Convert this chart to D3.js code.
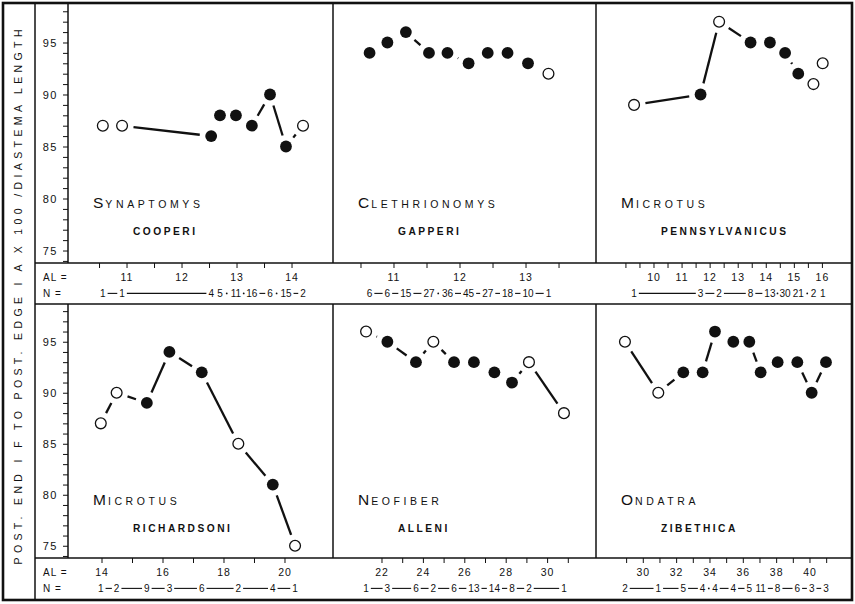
<!DOCTYPE html>
<html><head><meta charset="utf-8">
<script src="https://cdn.jsdelivr.net/npm/d3@7"></script>
<style>
body{margin:0;background:#fff;}
svg{display:block;}
text{font-family:"Liberation Sans",Arial,sans-serif;fill:#111;}
</style></head><body>
<svg id="chart" width="855" height="604"></svg>
<script>
// ---------- data ----------
const genus   = ["Synaptomys","Clethrionomys","Microtus","Microtus","Neofiber","Ondatra"];
const species = ["cooperi","gapperi","pennsylvanicus","richardsoni","alleni","zibethica"];

// alveolar length (AL) of each class
const alValues = [
  [10.56,10.91,12.53,12.69,12.98,13.27,13.6,13.89,14.2],
  [10.63,10.9,11.18,11.53,11.81,12.13,12.42,12.72,13.03,13.34],
  [9.29,11.66,12.32,13.44,14.13,14.67,15.14,15.68,16.01],
  [13.96,14.48,15.47,16.21,17.27,18.47,19.6,20.33],
  [21.23,22.26,23.64,24.48,25.48,26.44,27.43,28.28,29.1,30.79],
  [28.9,30.9,32.4,33.56,34.3,35.4,36.36,37.04,38.06,39.24,40.1,40.96]
];
// ratio (x100 / diastema length)
const ratioValues = [
  [87,87,86,88,88,87,90,85,87],
  [94,95,96,94,94,93,94,94,93,92],
  [89,90,97,95,95,94,92,91,93],
  [87,90,89,94,92,85,81,75],
  [96,95,93,95,93,93,92,91,93,88],
  [95,90,92,92,96,95,95,92,93,93,90,93]
];
// sample sizes N
const nValues = [
  [1,1,4,5,11,16,6,15,2],
  [6,6,15,27,36,45,27,18,10,1],
  [1,3,2,8,13,30,21,2,1],
  [1,2,9,3,6,2,4,1],
  [1,3,6,2,6,13,14,8,2,1],
  [2,1,5,4,4,4,5,11,8,6,3,3]
];
// AL tick labels and tick marks
const alTickLabels = [
  [11,12,13,14],[11,12,13],[10,11,12,13,14,15,16],
  [14,16,18,20],[22,24,26,28,30],[30,32,34,36,38,40]
];
const alTickMarks = [
  [10.5,11,11.5,12,12.5,13,13.5,14],
  [10.5,11,11.5,12,12.5,13,13.5],
  [9,9.5,10,10.5,11,11.5,12,12.5,13,13.5,14,14.5,15,15.5,16],
  [14,15,16,17,18,19,20],
  [22,23,24,25,26,27,28,29,30,31],
  [29,30,31,32,33,34,35,36,37,38,39,40,41]
];
const alDomains = [[9.927,14.745],[10.076,14.06],[7.934,17.054],[12.885,21.574],[19.633,32.338],[27.163,42.52]];
const ratioTicks = [75,80,85,90,95];
const ratioTickMarks = d3.range(74,99);
const ratioDomain = [73.8,98.7];
const yLabel = "POST. END I F TO POST. EDGE I A X 100 /DIASTEMA LENGTH";

// ---------- layout ----------
const svg = d3.select("#chart");
const colX = [68,333,596,852];
const rowY = [[4,263],[304,558]];
const ink = "#111";

svg.append("rect").attr("width",855).attr("height",604).attr("fill","#fff");

const smallCaps = (sel, word, big, small, ls) => {
  sel.append("tspan").attr("font-size",big).attr("letter-spacing",2).text(word[0].toUpperCase());
  sel.append("tspan").attr("font-size",small).attr("letter-spacing",ls).text(word.slice(1).toUpperCase());
};

for (let i = 0; i < 6; i++) {
  const col = i % 3, row = Math.floor(i / 3);
  const x0 = colX[col], x1 = colX[col+1];
  const [yTop, yBot] = rowY[row];
  const x = d3.scaleLinear().domain(alDomains[i]).range([x0, x1]);
  const y = d3.scaleLinear().domain(ratioDomain).range([yBot, yTop]);
  const g = svg.append("g");

  // y axis on left column
  if (col === 0) {
    const ax = g.append("g").attr("transform",`translate(${x0},0)`)
      .call(d3.axisLeft(y).tickValues(ratioTickMarks.filter(v => y(v) > yTop+3 && y(v) < yBot-1))
        .tickSize(5).tickSizeOuter(0).tickPadding(5)
        .tickFormat(d => ratioTicks.includes(d) ? d : ""));
    ax.select(".domain").remove();
    ax.selectAll("line").attr("stroke",ink).attr("stroke-width",1);
    ax.selectAll("text").attr("font-size",11).attr("letter-spacing",1.5)
      .attr("font-family","'Liberation Sans',Arial,sans-serif").attr("fill",ink);
  }

  // connecting segments (with gaps around the markers)
  const pts = alValues[i].map((a, k) => ({px: x(a), py: y(ratioValues[i][k]), n: nValues[i][k]}));
  const gap = 11.5;
  for (let k = 0; k < pts.length - 1; k++) {
    const p = pts[k], q = pts[k+1];
    const dx = q.px - p.px, dy = q.py - p.py, d = Math.hypot(dx, dy);
    if (d <= 2*gap + 0.5) continue;
    const ux = dx/d, uy = dy/d;
    g.append("line")
      .attr("x1", p.px + ux*gap).attr("y1", p.py + uy*gap)
      .attr("x2", q.px - ux*gap).attr("y2", q.py - uy*gap)
      .attr("stroke", ink).attr("stroke-width", 2.3).attr("stroke-linecap","butt");
  }
  // markers: open when N <= 2
  g.selectAll("circle.pt").data(pts).join("circle")
    .attr("class","pt")
    .attr("cx", d => d.px).attr("cy", d => d.py)
    .attr("r", d => d.n <= 2 ? 5.4 : 5.9)
    .attr("fill", d => d.n <= 2 ? "#fff" : ink)
    .attr("stroke", ink).attr("stroke-width", d => d.n <= 2 ? 1.3 : 0);

  // titles
  const tY = row === 0 ? 208 : 505;
  const gt = g.append("text").attr("x", x0 + 25).attr("y", tY);
  smallCaps(gt, genus[i], 15.5, 10.5, 3.6);
  g.append("text").attr("x", x0 + 65).attr("y", tY + 27)
    .attr("font-size", 10.2).attr("font-weight","bold").attr("letter-spacing", 2.5)
    .text(species[i].toUpperCase());

  // AL strip
  const sTop = yBot;
  g.selectAll("line.tk").data(alTickMarks[i]).join("line")
    .attr("class","tk")
    .attr("x1", d => x(d)).attr("x2", d => x(d))
    .attr("y1", sTop).attr("y2", sTop + 5)
    .attr("stroke", ink).attr("stroke-width", 1);
  g.selectAll("text.al").data(alTickLabels[i]).join("text")
    .attr("class","al")
    .attr("x", d => x(d)).attr("y", sTop + 18)
    .attr("text-anchor","middle").attr("font-size",10.5).attr("letter-spacing",1)
    .text(d => d);

  // N row
  const nY = sTop + 34;
  const nt = g.selectAll("text.n").data(pts).join("text")
    .attr("class","n")
    .attr("x", d => d.px).attr("y", nY)
    .attr("text-anchor","middle").attr("font-size",10)
    .text(d => d.n);
  const w = [];
  nt.each(function(){ w.push(this.getComputedTextLength()); });
  for (let k = 0; k < pts.length - 1; k++) {
    const a = pts[k].px + w[k]/2, b = pts[k+1].px - w[k+1]/2;
    const gp = b - a;
    if (gp < 4) continue;
    if (gp < 8) {
      g.append("circle").attr("cx",(a+b)/2).attr("cy",nY-3.6).attr("r",0.9).attr("fill",ink);
    } else {
      g.append("line").attr("x1",a+2).attr("x2",b-2).attr("y1",nY-3.6).attr("y2",nY-3.6)
        .attr("stroke",ink).attr("stroke-width",1.1);
    }
  }

  if (col === 0) {
    g.append("text").attr("x",43).attr("y",sTop+18).attr("font-size",10).attr("letter-spacing",1).text("AL =");
    g.append("text").attr("x",43).attr("y",nY).attr("font-size",10).attr("letter-spacing",1).text("N =");
  }

  // panel divider lines in plot area
  g.append("line").attr("x1",x0).attr("x2",x0).attr("y1",yTop).attr("y2",yBot)
    .attr("stroke",ink).attr("stroke-width",1.5);
}

// frame lines
const frame = svg.append("g").attr("stroke",ink).attr("fill","none");
frame.append("rect").attr("x",3).attr("y",3).attr("width",849).attr("height",597).attr("stroke-width",2.6);
frame.append("line").attr("x1",35).attr("x2",35).attr("y1",3).attr("y2",600).attr("stroke-width",1.5);
[263,304,558].forEach(yy => frame.append("line").attr("x1",35).attr("x2",852).attr("y1",yy).attr("y2",yy).attr("stroke-width",1.5));

// vertical y label
svg.append("text")
  .attr("transform","translate(22,297) rotate(-90)")
  .attr("text-anchor","middle")
  .attr("font-size",10.5)
  .attr("textLength",535).attr("lengthAdjust","spacing")
  .text(yLabel);
</script>
</body></html>
